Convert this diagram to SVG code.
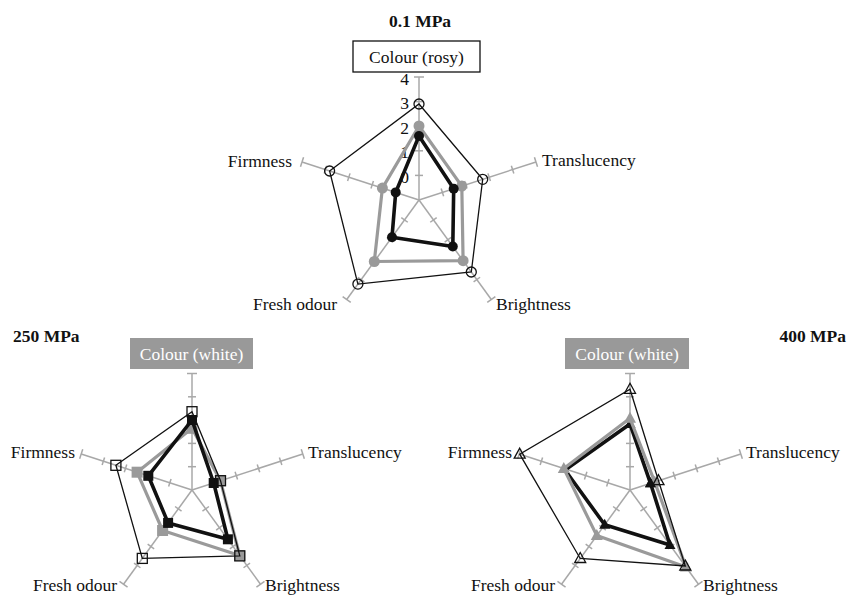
<svg xmlns="http://www.w3.org/2000/svg" xmlns:xlink="http://www.w3.org/1999/xlink" width="856" height="596" viewBox="0 0 856 596">
<style>
text{font-family:"Liberation Serif","Times New Roman",serif;font-size:17.5px;fill:#111}
.ttl{font-weight:bold}
.ax line{stroke:#a8a8a8;stroke-width:1.5}
.open{fill:none;stroke:#111;stroke-width:1.3;stroke-linejoin:miter}
.gry{fill:none;stroke:#9a9a9a;stroke-width:3.2;stroke-linejoin:round}
.blk{fill:none;stroke:#111;stroke-width:3.6;stroke-linejoin:round}
</style>
<defs>
<g id="axT" class="ax">
<line x1="0" y1="0" x2="0" y2="-123"/>
<line x1="-4" y1="-24.6" x2="4" y2="-24.6"/>
<line x1="-4" y1="-49.2" x2="4" y2="-49.2"/>
<line x1="-4" y1="-73.8" x2="4" y2="-73.8"/>
<line x1="-4" y1="-98.4" x2="4" y2="-98.4"/>
<line x1="-5" y1="-123" x2="5" y2="-123"/>
</g>
<g id="axB" class="ax">
<line x1="0" y1="0" x2="0" y2="-116.5"/>
<line x1="-4" y1="-23.3" x2="4" y2="-23.3"/>
<line x1="-4" y1="-46.6" x2="4" y2="-46.6"/>
<line x1="-4" y1="-69.9" x2="4" y2="-69.9"/>
<line x1="-4" y1="-93.2" x2="4" y2="-93.2"/>
<line x1="-5" y1="-116.5" x2="5" y2="-116.5"/>
</g>
<circle id="cO" r="5" fill="none" stroke="#111" stroke-width="1.3"/>
<circle id="cG" r="5.5" fill="#9a9a9a"/>
<circle id="cB" r="5" fill="#111"/>
<rect id="sO" x="-5" y="-5" width="10" height="10" fill="none" stroke="#111" stroke-width="1.3"/>
<rect id="sG" x="-5.5" y="-5.5" width="11" height="11" fill="#9a9a9a"/>
<rect id="sB" x="-5" y="-5" width="10" height="10" fill="#111"/>
<polygon id="tO" points="0,-6 5.5,4 -5.5,4" fill="none" stroke="#111" stroke-width="1.3"/>
<polygon id="tG" points="0,-6.5 6,4.5 -6,4.5" fill="#9a9a9a"/>
<polygon id="tB" points="0,-6 5.5,4 -5.5,4" fill="#111"/>
</defs>

<!-- Top chart 0.1 MPa -->
<g id="chart-top">
<text class="ttl" x="420" y="27" text-anchor="middle">0.1 MPa</text>
<g id="top-axes">
<use xlink:href="#axT" transform="translate(419,200)"/>
<use xlink:href="#axT" transform="translate(419,200) rotate(72)"/>
<use xlink:href="#axT" transform="translate(419,200) rotate(144)"/>
<use xlink:href="#axT" transform="translate(419,200) rotate(216)"/>
<use xlink:href="#axT" transform="translate(419,200) rotate(288)"/>
</g>
<g id="top-scale">
<text x="409" y="84.5" text-anchor="end">4</text>
<text x="409" y="109" text-anchor="end">3</text>
<text x="409" y="134" text-anchor="end">2</text>
<text x="409" y="158" text-anchor="end">1</text>
<text x="409" y="183" text-anchor="end">0</text>
</g>
<g id="top-colour">
<rect x="353" y="41" width="127" height="31" fill="#fff" stroke="#111" stroke-width="1.3"/>
<text x="416.5" y="62.5" text-anchor="middle">Colour (rosy)</text>
</g>
<g id="top-translucency"><text x="542" y="166">Translucency</text></g>
<g id="top-brightness"><text x="496" y="310">Brightness</text></g>
<g id="top-fresh"><text x="337" y="310" text-anchor="end">Fresh odour</text></g>
<g id="top-firmness"><text x="292" y="167" text-anchor="end">Firmness</text></g>
<g id="top-series">
<polygon class="gry" points="419,126 461.8,186.1 463.1,260.7 374.3,261.5 382.4,188.1"/>
<use xlink:href="#cG" x="419" y="126"/><use xlink:href="#cG" x="461.8" y="186.1"/><use xlink:href="#cG" x="463.1" y="260.7"/><use xlink:href="#cG" x="374.3" y="261.5"/><use xlink:href="#cG" x="382.4" y="188.1"/>
<polygon class="blk" points="419,136 453.7,188.7 452.8,246.5 392,237.2 395.7,192.4"/>
<use xlink:href="#cB" x="419" y="136"/><use xlink:href="#cB" x="453.7" y="188.7"/><use xlink:href="#cB" x="452.8" y="246.5"/><use xlink:href="#cB" x="392" y="237.2"/><use xlink:href="#cB" x="395.7" y="192.4"/>
<polygon class="open" points="419,104 482.7,179.3 471.3,272 357.9,284.1 329.6,171"/>
<use xlink:href="#cO" x="419" y="104"/><use xlink:href="#cO" x="482.7" y="179.3"/><use xlink:href="#cO" x="471.3" y="272"/><use xlink:href="#cO" x="357.9" y="284.1"/><use xlink:href="#cO" x="329.6" y="171"/>
</g>
</g>

<!-- Bottom-left chart 250 MPa -->
<g id="chart-250">
<text class="ttl" x="13" y="342">250 MPa</text>
<g id="bl-axes">
<use xlink:href="#axB" transform="translate(192,490)"/>
<use xlink:href="#axB" transform="translate(192,490) rotate(72)"/>
<use xlink:href="#axB" transform="translate(192,490) rotate(144)"/>
<use xlink:href="#axB" transform="translate(192,490) rotate(216)"/>
<use xlink:href="#axB" transform="translate(192,490) rotate(288)"/>
</g>
<g id="bl-colour">
<rect x="130" y="338" width="123" height="31" fill="#999"/>
<text x="191.5" y="359.5" text-anchor="middle" style="fill:#fff">Colour (white)</text>
</g>
<g id="bl-translucency"><text x="308" y="458">Translucency</text></g>
<g id="bl-brightness"><text x="265" y="591">Brightness</text></g>
<g id="bl-fresh"><text x="117" y="591" text-anchor="end">Fresh odour</text></g>
<g id="bl-firmness"><text x="75" y="458" text-anchor="end">Firmness</text></g>
<g id="bl-series">
<polygon class="gry" points="192,428.3 220.5,480.7 239.6,555.5 162.6,530.5 137.1,472.2"/>
<use xlink:href="#sG" x="192" y="428.3"/><use xlink:href="#sG" x="220.5" y="480.7"/><use xlink:href="#sG" x="239.6" y="555.5"/><use xlink:href="#sG" x="162.6" y="530.5"/><use xlink:href="#sG" x="137.1" y="472.2"/>
<polygon class="blk" points="192,420 213.7,483 227.9,539.3 168.1,522.9 148.3,475.8"/>
<use xlink:href="#sB" x="192" y="420"/><use xlink:href="#sB" x="213.7" y="483"/><use xlink:href="#sB" x="227.9" y="539.3"/><use xlink:href="#sB" x="168.1" y="522.9"/><use xlink:href="#sB" x="148.3" y="475.8"/>
<polygon class="open" points="192,411.7 220.5,480.7 239.8,555.9 142.3,558.4 115.9,465.3"/>
<use xlink:href="#sO" x="192" y="411.7"/><use xlink:href="#sO" x="220.5" y="480.7"/><use xlink:href="#sO" x="239.8" y="555.9"/><use xlink:href="#sO" x="142.3" y="558.4"/><use xlink:href="#sO" x="115.9" y="465.3"/>
</g>
</g>

<!-- Bottom-right chart 400 MPa -->
<g id="chart-400">
<text class="ttl" x="846" y="342" text-anchor="end">400 MPa</text>
<g id="br-axes">
<use xlink:href="#axB" transform="translate(630,490)"/>
<use xlink:href="#axB" transform="translate(630,490) rotate(72)"/>
<use xlink:href="#axB" transform="translate(630,490) rotate(144)"/>
<use xlink:href="#axB" transform="translate(630,490) rotate(216)"/>
<use xlink:href="#axB" transform="translate(630,490) rotate(288)"/>
</g>
<g id="br-colour">
<rect x="565" y="338" width="124" height="31" fill="#999"/>
<text x="627" y="359.5" text-anchor="middle" style="fill:#fff">Colour (white)</text>
</g>
<g id="br-translucency"><text x="746" y="458">Translucency</text></g>
<g id="br-brightness"><text x="703" y="591">Brightness</text></g>
<g id="br-fresh"><text x="555" y="591" text-anchor="end">Fresh odour</text></g>
<g id="br-firmness"><text x="512" y="458" text-anchor="end">Firmness</text></g>
<g id="br-series">
<polygon class="blk" points="630,424 650.5,483.3 670,545 604.7,524.8 565,470"/>
<use xlink:href="#tB" x="630" y="424"/><use xlink:href="#tB" x="650.5" y="483.3"/><use xlink:href="#tB" x="670" y="545"/><use xlink:href="#tB" x="604.7" y="524.8"/>
<polygon class="gry" points="630,418.3 654.7,482 686,567 596.8,535.6 563.8,468.5"/>
<use xlink:href="#tG" x="630" y="418.3"/><use xlink:href="#tG" x="654.7" y="482"/><use xlink:href="#tG" x="686" y="567"/><use xlink:href="#tG" x="596.8" y="535.6"/><use xlink:href="#tG" x="563.8" y="468.5"/>
<use xlink:href="#tB" x="650.5" y="483.3"/>
<polygon class="open" points="630,389.3 658.5,480.7 685.3,566 580.2,558.5 519.7,454.2"/>
<use xlink:href="#tO" x="630" y="389.3"/><use xlink:href="#tO" x="658.5" y="480.7"/><use xlink:href="#tO" x="685.3" y="566"/><use xlink:href="#tO" x="580.2" y="558.5"/><use xlink:href="#tO" x="519.7" y="454.2"/>
</g>
</g>
</svg>
